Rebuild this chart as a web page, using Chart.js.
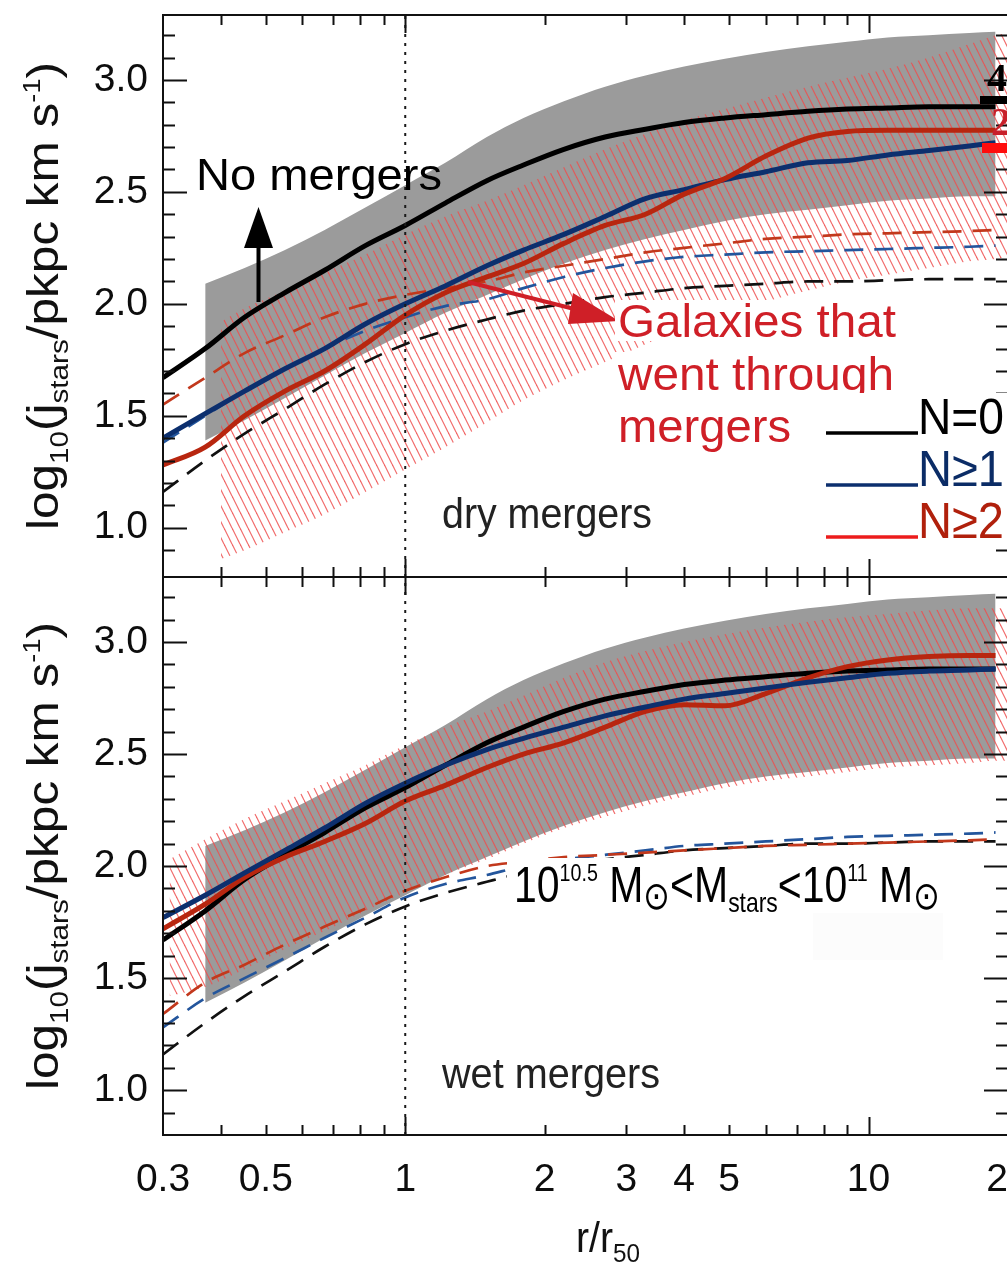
<!DOCTYPE html>
<html>
<head>
<meta charset="utf-8">
<title>Stellar specific angular momentum profiles: dry vs wet mergers</title>
<script src="https://cdn.jsdelivr.net/npm/chart.js@4.4.1/dist/chart.umd.min.js"></script>
<style>
  html, body { margin: 0; padding: 0; background: #fff; width: 1007px; height: 1272px; overflow: hidden; }
  #wrap { position: relative; width: 1007px; height: 1272px; overflow: hidden; }
  canvas { position: absolute; left: 0; top: 0; }
</style>
</head>
<body>
<div id="wrap">
  <canvas id="wet" width="1040" height="1272"></canvas>
  <canvas id="dry" width="1040" height="1272"></canvas>
</div>
<script>
// ---- radial sampling (r / r50) of the median profiles ----
const radius = [0.3, 0.37, 0.45, 0.55, 0.67, 0.82, 1.0, 1.22, 1.5, 1.8, 2.2, 2.7, 3.3, 4.0, 4.9, 6.0, 7.4, 9.0, 11, 13.5, 16.5, 18.8];

// N=0 (no mergers): identical in both panels
const noMergerSolid  = [1.67, 1.80, 1.94, 2.05, 2.15, 2.26, 2.35, 2.45, 2.55, 2.62, 2.69, 2.745, 2.78, 2.81, 2.83, 2.845, 2.86, 2.87, 2.875, 2.88, 2.88, 2.88];
const noMergerDashed = [1.16, 1.30, 1.42, 1.53, 1.64, 1.74, 1.82, 1.88, 1.93, 1.97, 2.00, 2.03, 2.05, 2.07, 2.08, 2.09, 2.10, 2.10, 2.105, 2.11, 2.11, 2.11];
const noMergerBandR  = [0.37, 0.45, 0.55, 0.67, 0.82, 1.0, 1.22, 1.5, 1.8, 2.2, 2.7, 3.3, 4.0, 4.9, 6.0, 7.4, 9.0, 11, 13.5, 16.5, 18.8];
const noMergerBandHi = [2.09, 2.16, 2.24, 2.33, 2.43, 2.53, 2.63, 2.745, 2.83, 2.905, 2.97, 3.02, 3.06, 3.095, 3.125, 3.15, 3.17, 3.19, 3.20, 3.21, 3.215];
const noMergerBandLo = [1.39, 1.48, 1.58, 1.68, 1.78, 1.87, 1.96, 2.04, 2.11, 2.18, 2.24, 2.29, 2.33, 2.37, 2.40, 2.42, 2.44, 2.46, 2.47, 2.48, 2.48];

// dry mergers
const dryN1       = [1.40, 1.51, 1.61, 1.71, 1.80, 1.91, 2.00, 2.08, 2.17, 2.24, 2.31, 2.39, 2.47, 2.51, 2.555, 2.59, 2.63, 2.64, 2.665, 2.685, 2.705, 2.72];
const dryN1Dashed = [1.38, 1.50, 1.61, 1.71, 1.80, 1.88, 1.94, 1.99, 2.02, 2.07, 2.12, 2.16, 2.19, 2.21, 2.22, 2.23, 2.235, 2.24, 2.245, 2.25, 2.255, 2.26];
const dryN2       = [1.28, 1.36, 1.50, 1.61, 1.70, 1.82, 1.95, 2.05, 2.12, 2.18, 2.27, 2.35, 2.40, 2.49, 2.56, 2.66, 2.74, 2.77, 2.775, 2.775, 2.775, 2.775];
const dryN2Dashed = [1.55, 1.67, 1.78, 1.86, 1.94, 2.00, 2.04, 2.07, 2.10, 2.14, 2.17, 2.20, 2.23, 2.25, 2.27, 2.29, 2.30, 2.31, 2.315, 2.32, 2.325, 2.33];
const dryN2BandR  = [0.4, 0.45, 0.55, 0.67, 0.82, 1.0, 1.22, 1.5, 1.8, 2.2, 2.7, 3.3, 4.0, 4.9, 6.0, 7.4, 9.0, 11, 13.5, 16.5, 18.8, 20];
const dryN2BandHi = [1.92, 1.98, 2.06, 2.14, 2.22, 2.31, 2.39, 2.46, 2.53, 2.61, 2.69, 2.76, 2.82, 2.87, 2.92, 2.97, 3.01, 3.05, 3.10, 3.16, 3.20, 3.21];
const dryN2BandLo = [0.86, 0.90, 0.98, 1.06, 1.16, 1.26, 1.36, 1.47, 1.57, 1.66, 1.74, 1.82, 1.89, 1.95, 2.01, 2.06, 2.10, 2.13, 2.16, 2.19, 2.20, 2.21];

// wet mergers
const wetN1       = [1.77, 1.87, 1.97, 2.07, 2.17, 2.28, 2.37, 2.45, 2.52, 2.57, 2.62, 2.67, 2.71, 2.745, 2.77, 2.795, 2.82, 2.84, 2.86, 2.87, 2.875, 2.88];
const wetN1Dashed = [1.28, 1.41, 1.50, 1.59, 1.68, 1.77, 1.86, 1.92, 1.96, 2.00, 2.03, 2.05, 2.07, 2.09, 2.10, 2.11, 2.12, 2.13, 2.135, 2.14, 2.145, 2.15];
const wetN2       = [1.72, 1.83, 1.95, 2.04, 2.11, 2.19, 2.29, 2.36, 2.44, 2.50, 2.55, 2.62, 2.69, 2.72, 2.715, 2.77, 2.84, 2.89, 2.92, 2.935, 2.94, 2.94];
const wetN2Dashed = [1.34, 1.48, 1.56, 1.65, 1.73, 1.81, 1.89, 1.95, 2.00, 2.02, 2.04, 2.05, 2.06, 2.07, 2.08, 2.09, 2.095, 2.10, 2.105, 2.11, 2.115, 2.12];
const wetN2BandR  = [0.31, 0.37, 0.45, 0.55, 0.67, 0.82, 1.0, 1.22, 1.5, 1.8, 2.2, 2.7, 3.3, 4.0, 4.9, 6.0, 7.4, 9.0, 11, 13.5, 16.5, 18.8, 20];
const wetN2BandHi = [2.03, 2.12, 2.21, 2.29, 2.37, 2.45, 2.54, 2.62, 2.69, 2.76, 2.84, 2.91, 2.96, 3.00, 3.035, 3.065, 3.09, 3.11, 3.125, 3.14, 3.15, 3.15, 3.15];
const wetN2BandLo = [1.42, 1.46, 1.54, 1.63, 1.71, 1.80, 1.88, 1.96, 2.03, 2.10, 2.17, 2.22, 2.27, 2.31, 2.35, 2.38, 2.40, 2.42, 2.44, 2.45, 2.46, 2.47, 2.47];

// axes
const xTickValues  = [0.3, 0.5, 1, 2, 3, 4, 5, 10, 20];
const xMinorTicks  = [0.4, 0.5, 0.6, 0.7, 0.8, 0.9, 2, 3, 4, 5, 6, 7, 8, 9, 20];
const xMajorTicks  = [1, 10];
const yTickValues  = [1.0, 1.5, 2.0, 2.5, 3.0];
const halfMassRadius = 1;   // r = r50 reference line

// ---- styling ----
const SANS = '"Liberation Sans", Arial, Helvetica, "DejaVu Sans", sans-serif';
const SERIF = '"Liberation Serif", "Times New Roman", "DejaVu Serif", serif';
const GRAY = '#9b9b9b';
const BLACK = '#000000';
const NAVY = '#0c2f6e';
const RUST = '#b8260f';
const NAVY_D = '#23559c';
const RUST_D = '#c2381c';
const ANNOT_RED = '#cf1f27';
const DASH = [19, 11];

function hatchPattern() {
  const c = document.createElement('canvas');
  c.width = 8; c.height = 16;
  const g = c.getContext('2d');
  g.strokeStyle = 'rgba(238, 78, 78, 0.85)';
  g.lineWidth = 1.2;
  for (const o of [-8, 0, 8]) {
    g.beginPath(); g.moveTo(o, 0); g.lineTo(o + 8, 16); g.stroke();
  }
  return g.createPattern(c, 'repeat');
}
const HATCH = hatchPattern();

const pts = (xs, ys) => xs.map((x, i) => ({ x, y: ys[i] }));

function line(xs, ys, color, width, dash, order) {
  return {
    data: pts(xs, ys), borderColor: color, borderWidth: width, borderDash: dash || [],
    pointRadius: 0, fill: false, cubicInterpolationMode: 'monotone', order,
    borderCapStyle: 'butt', borderJoinStyle: 'round'
  };
}
function band(xs, lo, hi, bg, order) {
  const base = { borderWidth: 0, borderColor: 'rgba(0,0,0,0)', pointRadius: 0, cubicInterpolationMode: 'monotone', order };
  return [
    Object.assign({ data: pts(xs, lo), fill: false }, base),
    Object.assign({ data: pts(xs, hi), fill: '-1', backgroundColor: bg }, base)
  ];
}
function refLine(yMin, yMax) {
  return {
    data: [{ x: halfMassRadius, y: yMin }, { x: halfMassRadius, y: yMax }],
    borderColor: '#1a1a1a', borderWidth: 2, borderDash: [3, 6], pointRadius: 0, fill: false, order: 0
  };
}

// rich text: segments of [text, sizeFactor, baselineShiftFactor]
function drawRich(ctx, segs, x, y, opt) {
  const F = opt.size;
  const fam = opt.family || SANS;
  const wt = opt.weight || 'normal';
  ctx.save();
  ctx.translate(x, y);
  if (opt.rotate) ctx.rotate(opt.rotate);
  let w = 0;
  for (const [t, s] of segs) { ctx.font = `${wt} ${F * s}px ${fam}`; w += ctx.measureText(t).width; }
  const k = opt.width ? opt.width / w : 1;
  const x0 = opt.align === 'center' ? -w * k / 2 : (opt.align === 'right' ? -w * k : 0);
  ctx.translate(x0, 0);
  ctx.scale(k, 1);
  ctx.fillStyle = opt.color || '#000';
  ctx.textAlign = 'left';
  ctx.textBaseline = 'alphabetic';
  let cx = 0;
  for (const [t, s, dy] of segs) {
    ctx.font = `${wt} ${F * s}px ${fam}`;
    ctx.fillText(t, cx, (dy || 0) * F);
    cx += ctx.measureText(t).width;
  }
  ctx.restore();
}

const yTitle = [['log', 1], ['10', 0.6, 0.22], ['(j', 1], ['stars', 0.6, 0.22], ['/pkpc km s', 1], ['-1', 0.55, -0.4], [')', 1]];

// frame with inward ticks on all four sides + rotated y title
const frameTicks = {
  id: 'frameTicks',
  afterDatasetsDraw(chart) {
    const { ctx, chartArea: a } = chart;
    const x = chart.scales.x, y = chart.scales.y;
    ctx.save();
    ctx.strokeStyle = '#111';
    ctx.lineWidth = 2;
    ctx.strokeRect(a.left, a.top, a.right - a.left, a.bottom - a.top);
    ctx.beginPath();
    for (let i = 9; i <= 32; i++) {
      const v = i / 10;
      if (v <= y.min || v >= y.max) continue;
      const p = Math.round(y.getPixelForValue(v)) + 0.5;
      const L = i % 5 === 0 ? 24 : 12;
      ctx.moveTo(a.left, p); ctx.lineTo(a.left + L, p);
      ctx.moveTo(a.right, p); ctx.lineTo(a.right - L, p);
    }
    const xt = xMinorTicks.map(v => [v, 10]).concat(xMajorTicks.map(v => [v, 18]));
    for (const [v, L] of xt) {
      const p = Math.round(x.getPixelForValue(v)) + 0.5;
      ctx.moveTo(p, a.top); ctx.lineTo(p, a.top + L);
      ctx.moveTo(p, a.bottom); ctx.lineTo(p, a.bottom - L);
    }
    ctx.stroke();
    ctx.restore();
    drawRich(ctx, yTitle, 58, (a.top + a.bottom) / 2,
      { size: 44, rotate: -Math.PI / 2, align: 'center', width: 468, color: '#111' });
  }
};

function scales(yMin, yMax, showX, xHeight) {
  return {
    x: {
      type: 'logarithmic', min: 0.3, max: 20,
      afterBuildTicks: s => { s.ticks = xTickValues.map(v => ({ value: v })); },
      afterFit: s => { s.height = xHeight; s.paddingLeft = 0; s.paddingRight = 0; },
      ticks: {
        display: showX, autoSkip: false, maxRotation: 0, padding: 22,
        color: '#0d0d0d', font: { family: SANS, size: 39 },
        callback: v => String(v)
      },
      grid: { display: false, drawTicks: false },
      border: { display: false }
    },
    y: {
      type: 'linear', min: yMin, max: yMax,
      afterBuildTicks: s => { s.ticks = yTickValues.map(v => ({ value: v })); },
      afterFit: s => { s.width = 163; s.paddingTop = 0; s.paddingBottom = 0; },
      ticks: { padding: 15, color: '#0d0d0d', font: { family: SANS, size: 39 }, callback: v => Number(v).toFixed(1) },
      grid: { display: false, drawTicks: false },
      border: { display: false }
    }
  };
}

const common = {
  responsive: false, animation: false, devicePixelRatio: 1,
  plugins: { legend: { display: false }, tooltip: { enabled: false } },
  events: []
};

// ---- top panel: dry mergers ----
const dryAnnotations = {
  id: 'dryAnnotations',
  afterDraw(chart) {
    const ctx = chart.ctx;
    ctx.save();

    // "No mergers" with upward arrow
    drawRich(ctx, [['No mergers', 1]], 196, 190, { size: 45, width: 246, color: '#000' });
    ctx.strokeStyle = '#000'; ctx.lineWidth = 4;
    ctx.beginPath(); ctx.moveTo(258.5, 302); ctx.lineTo(258.5, 246); ctx.stroke();
    ctx.fillStyle = '#000';
    ctx.beginPath(); ctx.moveTo(244, 248); ctx.lineTo(273, 248); ctx.lineTo(258.5, 207); ctx.closePath(); ctx.fill();

    // red pointer towards the merger profiles
    ctx.strokeStyle = ANNOT_RED; ctx.fillStyle = ANNOT_RED; ctx.lineWidth = 4;
    ctx.beginPath(); ctx.moveTo(468, 282); ctx.lineTo(590, 313); ctx.stroke();
    ctx.beginPath(); ctx.moveTo(619, 321); ctx.lineTo(573, 293); ctx.lineTo(568, 324); ctx.closePath(); ctx.fill();

    // "Galaxies that went through mergers"
    ctx.fillStyle = '#fff';
    ctx.fillRect(615, 300, 287, 41);
    ctx.fillRect(615, 352, 284, 52);
    ctx.fillRect(615, 405, 182, 50);
    const gl = [['Galaxies that', 337, 278], ['went through', 390, 276], ['mergers', 442, 173]];
    for (const [t, yb, w] of gl) drawRich(ctx, [[t, 1]], 618, yb, { size: 47, width: w, color: ANNOT_RED });

    // legend
    ctx.fillStyle = '#fff';
    ctx.fillRect(820, 393, 200, 153);
    const leg = [['N=0', 434, BLACK, BLACK], ['N\u22651', 486, NAVY, '#0b2c66'], ['N\u22652', 538, '#ec1c1c', '#b0200c']];
    for (const [t, yb, lc, tc] of leg) {
      ctx.strokeStyle = lc; ctx.lineWidth = 3.5;
      ctx.beginPath(); ctx.moveTo(826, yb - 1); ctx.lineTo(918, yb - 1); ctx.stroke();
      drawRich(ctx, [[t, 1]], 918, yb, { size: 50, width: 86, color: tc });
    }

    // right-edge markers
    drawRich(ctx, [['4', 1]], 987, 91, { size: 40, weight: 'bold', family: SERIF, color: '#000' });
    ctx.fillStyle = '#000'; ctx.fillRect(980, 96, 30, 8);
    drawRich(ctx, [['2', 1]], 991, 135, { size: 40, weight: 'bold', family: SERIF, color: '#c8202a' });
    ctx.fillStyle = '#ff0d0d'; ctx.fillRect(982, 143, 30, 10);

    // panel label
    drawRich(ctx, [['dry mergers', 1]], 442, 528, { size: 42, width: 210, color: '#222' });
    ctx.restore();
  }
};

new Chart(document.getElementById('dry'), {
  type: 'line',
  data: {
    datasets: [
      ...band(noMergerBandR, noMergerBandLo, noMergerBandHi, GRAY, 6),
      ...band(dryN2BandR, dryN2BandLo, dryN2BandHi, HATCH, 5),
      line(radius, noMergerDashed, '#111', 2.7, DASH, 4),
      line(radius, dryN1Dashed, NAVY_D, 2.7, DASH, 3.9),
      line(radius, dryN2Dashed, RUST_D, 2.7, DASH, 3.8),
      line(radius, noMergerSolid, BLACK, 5, null, 3),
      line(radius, dryN1, NAVY, 5, null, 2),
      line(radius, dryN2, RUST, 5, null, 1),
      refLine(0.78, 3.29)
    ]
  },
  options: Object.assign({}, common, {
    layout: { padding: { left: 0, right: 32, top: 15, bottom: 0 } },
    scales: scales(0.78, 3.29, false, 695)
  }),
  plugins: [frameTicks, dryAnnotations]
});

// ---- bottom panel: wet mergers ----
const wetAnnotations = {
  id: 'wetAnnotations',
  afterDraw(chart) {
    const ctx = chart.ctx;
    ctx.save();
    drawRich(ctx, [['wet mergers', 1]], 442, 1088, { size: 42, width: 218, color: '#222' });

    // stellar mass bin
    ctx.fillStyle = '#fcfcfc';
    ctx.fillRect(813, 912, 130, 48);
    ctx.fillStyle = '#fff';
    ctx.fillRect(507, 858, 436, 55);
    drawRich(ctx, [
      ['10', 1], ['10.5', 0.48, -0.42], [' M', 1], ['\u2299', 0.78, 0.14], ['<M', 1],
      ['stars', 0.56, 0.2], ['<10', 1], ['11', 0.48, -0.42], [' M', 1], ['\u2299', 0.78, 0.14]
    ], 514, 902, { size: 50, width: 426, color: '#000' });

    // x-axis title
    drawRich(ctx, [['r/r', 1], ['50', 0.62, 0.24]], 608, 1252, { size: 42, width: 64, align: 'center', color: '#111' });
    ctx.restore();
  }
};

new Chart(document.getElementById('wet'), {
  type: 'line',
  data: {
    datasets: [
      ...band(noMergerBandR, noMergerBandLo, noMergerBandHi, GRAY, 6),
      ...band(wetN2BandR, wetN2BandLo, wetN2BandHi, HATCH, 5),
      line(radius, noMergerDashed, '#111', 2.7, DASH, 4),
      line(radius, wetN1Dashed, NAVY_D, 2.7, DASH, 3.9),
      line(radius, wetN2Dashed, RUST_D, 2.7, DASH, 3.8),
      line(radius, noMergerSolid, BLACK, 5, null, 3),
      line(radius, wetN2, RUST, 5, null, 2),
      line(radius, wetN1, NAVY, 5, null, 1),
      refLine(0.80, 3.29)
    ]
  },
  options: Object.assign({}, common, {
    layout: { padding: { left: 0, right: 32, top: 577, bottom: 0 } },
    scales: scales(0.80, 3.29, true, 137)
  }),
  plugins: [frameTicks, wetAnnotations]
});
</script>
</body>
</html>
